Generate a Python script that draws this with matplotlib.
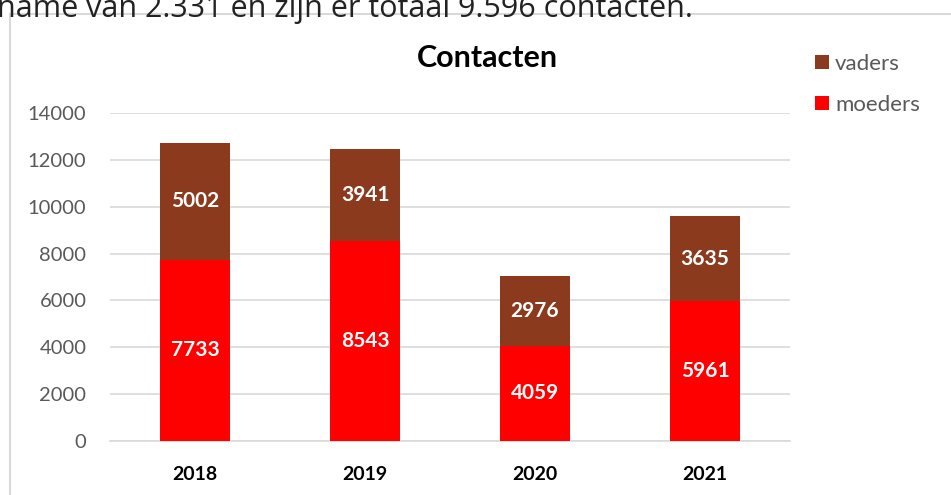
import matplotlib
matplotlib.use("Agg")
import matplotlib.pyplot as plt
from matplotlib.lines import Line2D

plt.rcParams['font.family'] = ['Lato', 'DejaVu Sans']

years = ["2018", "2019", "2020", "2021"]
moeders = [7733, 8543, 4059, 5961]
vaders = [5002, 3941, 2976, 3635]
yticks = [0, 2000, 4000, 6000, 8000, 10000, 12000, 14000]

C_VADERS = "#8B3A1E"
C_MOEDERS = "#FF0000"
GRID = "#D9D9D9"
TICK = "#595959"

W, H = 951, 495
fig = plt.figure(figsize=(W / 100, H / 100), dpi=100)

def fx(px):
    return px / W

def fy(py):
    return 1 - py / H

ax = fig.add_axes([fx(110), fy(441), fx(790) - fx(110), fy(113) - fy(441)])

x = range(len(years))
b1 = ax.bar(x, moeders, width=0.41, color=C_MOEDERS, label="moeders", zorder=3)
b2 = ax.bar(x, vaders, width=0.41, bottom=moeders, color=C_VADERS, label="vaders", zorder=3)

for i in x:
    ax.text(i, moeders[i] / 2, str(moeders[i]), ha="center", va="center",
            color="white", fontsize=15, fontweight="bold", zorder=4)
    ax.text(i, moeders[i] + vaders[i] / 2, str(vaders[i]), ha="center", va="center",
            color="white", fontsize=15, fontweight="bold", zorder=4)

ax.set_xlim(-0.5, len(years) - 0.5)
ax.set_ylim(0, 14000)
ax.set_yticks(yticks)
ax.set_yticklabels([str(v) for v in yticks], color=TICK, fontsize=14.5)
ax.set_xticks(list(x))
ax.set_xticklabels(years, fontsize=14, fontweight="bold", color="black")
ax.tick_params(axis="y", length=0, pad=17)
ax.tick_params(axis="x", length=0, pad=18)
ax.grid(axis="y", color=GRID, linewidth=1.2, zorder=0)
for s in ["top", "right", "left"]:
    ax.spines[s].set_visible(False)
ax.spines["bottom"].set_color(GRID)
ax.spines["bottom"].set_linewidth(1.2)

fig.text(fx(487), fy(58), "Contacten", ha="center", va="center",
         fontsize=22, fontweight="bold", color="black")

leg = fig.legend(handles=[b2, b1], labels=["vaders", "moeders"],
                 loc="upper left", bbox_to_anchor=(fx(797), fy(36)),
                 frameon=False, fontsize=16, handlelength=0.62, handleheight=0.62,
                 handletextpad=0.3, labelspacing=0.95, borderpad=0.3)
for t in leg.get_texts():
    t.set_color(TICK)

# surrounding frame of the embedded chart
fig.add_artist(Line2D([fx(10), fx(10)], [fy(14), 0], color=GRID, linewidth=1.5))
fig.add_artist(Line2D([fx(10), 1], [fy(14), fy(14)], color=GRID, linewidth=1.5))

# clipped text of the page above the chart
fig.text(fx(-3), fy(17), "name van 2.331 en zijn er totaal 9.596 contacten.",
         ha="left", va="baseline", fontsize=22, color="#222222",
         family=["Open Sans", "DejaVu Sans"])

fig.savefig("out.png", dpi=100)
